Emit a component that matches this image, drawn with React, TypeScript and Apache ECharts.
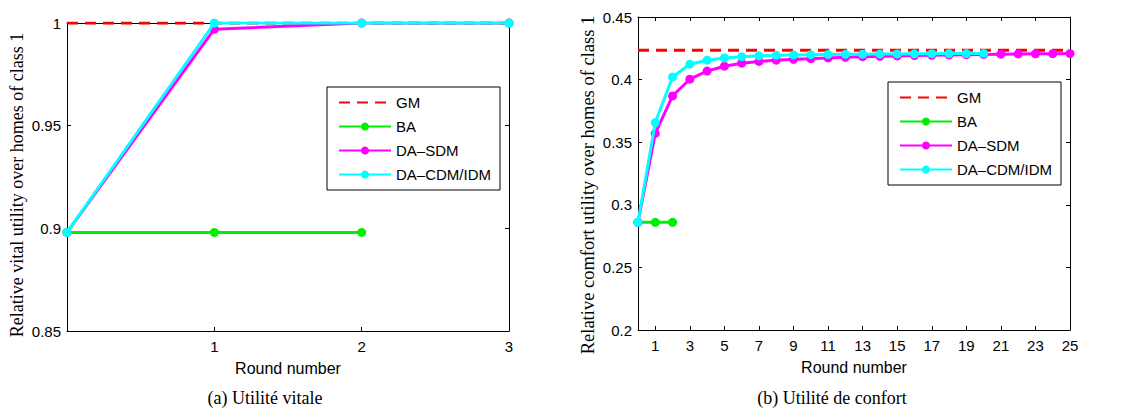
import React, { useEffect, useRef } from "react";
import * as echarts from "echarts";

// ---- Panel (a): Utilité vitale ----
const roundsA = [0, 1, 2, 3];
const gmRoundsA = [0, 3];
const gmA = [1, 1];
const baRoundsA = [0, 1, 2];
const baA = [0.898, 0.898, 0.898];
const sdmA = [0.898, 0.997, 1, 1];
const cdmA = [0.898, 1, 1, 1];
const xTicksA = [1, 2, 3];

// ---- Panel (b): Utilité de confort ----
const gmRoundsB = [0, 25];
const gmB = [0.4234, 0.4234];
const baRoundsB = [0, 1, 2];
const baB = [0.286, 0.286, 0.286];
const sdmRoundsB = [0, 1, 2, 3, 4, 5, 6, 7, 8, 9, 10, 11, 12, 13, 14, 15, 16, 17, 18, 19, 20, 21, 22, 23, 24, 25];
const sdmB = [0.286, 0.357, 0.387, 0.4003, 0.4068, 0.4107, 0.4131, 0.4145, 0.4155, 0.4162, 0.4167, 0.4173, 0.4178, 0.4183, 0.4186, 0.4189, 0.4192, 0.4194, 0.4197, 0.4199, 0.4201, 0.4203, 0.4205, 0.4206, 0.4207, 0.4208];
const cdmRoundsB = [0, 1, 2, 3, 4, 5, 6, 7, 8, 9, 10, 11, 12, 13, 14, 15, 16, 17, 18, 19, 20];
const cdmB = [0.286, 0.3657, 0.4021, 0.4123, 0.4155, 0.4173, 0.4183, 0.419, 0.4194, 0.4197, 0.4199, 0.4201, 0.4202, 0.4203, 0.4204, 0.4205, 0.4206, 0.4207, 0.4208, 0.4208, 0.4209];
const xTicksB = [1, 3, 5, 7, 9, 11, 13, 15, 17, 19, 21, 23, 25];

const seriesNames = ["GM", "BA", "DA\u2013SDM", "DA\u2013CDM/IDM"];
const colors = ["#ff0000", "#00ee00", "#ff00ff", "#00ffff"];
const captions = ["(a) Utilit\u00e9 vitale", "(b) Utilit\u00e9 de confort"];
const yNames = [
  "Relative vital utility over homes of class 1",
  "Relative comfort utility over homes of class 1",
];

const SANS = "'Liberation Sans', Arial, sans-serif";
const SERIF = "'Liberation Serif', 'DejaVu Serif', serif";

const zip = (xs: number[], ys: number[]) => xs.map((x, i) => [x, ys[i]]);

export default function App() {
  const ref = useRef<HTMLDivElement>(null);
  useEffect(() => {
    if (!ref.current) return;
    const chart = echarts.init(ref.current, undefined, { renderer: "svg" });

    const axisLine = { show: true, lineStyle: { color: "#000", width: 1 } };
    const tickIn = { show: true, inside: true, length: 4, lineStyle: { color: "#000" } };
    const label = { color: "#000", fontSize: 15, fontFamily: SANS };

    const xAxisBase = (grid: number, min: number, max: number, ticks: number[], pos: "top" | "bottom") => ({
      type: "value",
      gridIndex: grid,
      position: pos,
      min,
      max,
      axisLine: { ...axisLine, onZero: false },
      axisTick: { ...tickIn, customValues: ticks },
      axisLabel: pos === "bottom" ? { ...label, margin: 8, customValues: ticks } : { show: false },
      splitLine: { show: false },
      name: pos === "bottom" ? "Round number" : "",
      nameLocation: "middle",
      nameGap: 29,
      nameTextStyle: { color: "#000", fontSize: 16, fontFamily: SANS },
    });
    const yAxisBase = (grid: number, min: number, max: number, pos: "left" | "right") => ({
      type: "value",
      gridIndex: grid,
      position: pos,
      min,
      max,
      interval: 0.05,
      axisLine: { ...axisLine, onZero: false },
      axisTick: tickIn,
      axisLabel: pos === "left" ? { ...label, margin: 6 } : { show: false },
      splitLine: { show: false },
    });

    const lineSeries = (name: string, idx: number, data: number[][], xi: number, yi: number, dashed = false) => ({
      type: "line",
      name,
      xAxisIndex: xi,
      yAxisIndex: yi,
      data,
      symbol: dashed ? "none" : "circle",
      symbolSize: 9,
      showSymbol: !dashed,
      lineStyle: { color: colors[idx], width: 3, type: dashed ? [11, 7] : "solid" },
      itemStyle: { color: colors[idx] },
      z: 2 + idx,
    });

    const legend = (left: number, top: number) => ({
      orient: "vertical",
      left,
      top,
      data: [
        { name: seriesNames[0], itemStyle: { opacity: 0 } },
        seriesNames[1],
        seriesNames[2],
        seriesNames[3],
      ],
      itemWidth: 52,
      itemHeight: 10,
      itemGap: 9,
      padding: [8, 9, 8, 11],
      borderColor: "#000",
      borderWidth: 1,
      backgroundColor: "#fff",
      textStyle: { color: "#000", fontSize: 15, fontFamily: SANS },
      selectedMode: false,
    });

    chart.setOption({
      animation: false,
      backgroundColor: "#fff",
      grid: [
        { left: 67, top: 23, width: 442, height: 308 },
        { left: 638, top: 17, width: 432, height: 313 },
      ],
      xAxis: [
        xAxisBase(0, 0, 3, xTicksA, "bottom"),
        xAxisBase(0, 0, 3, xTicksA, "top"),
        xAxisBase(1, 0, 25, xTicksB, "bottom"),
        xAxisBase(1, 0, 25, xTicksB, "top"),
      ],
      yAxis: [
        yAxisBase(0, 0.85, 1, "left"),
        yAxisBase(0, 0.85, 1, "right"),
        yAxisBase(1, 0.2, 0.45, "left"),
        yAxisBase(1, 0.2, 0.45, "right"),
      ],
      legend: [legend(327, 87), legend(888, 82)],
      series: [
        lineSeries(seriesNames[0], 0, zip(gmRoundsA, gmA), 0, 0, true),
        lineSeries(seriesNames[1], 1, zip(baRoundsA, baA), 0, 0),
        lineSeries(seriesNames[2], 2, zip(roundsA, sdmA), 0, 0),
        lineSeries(seriesNames[3], 3, zip(roundsA, cdmA), 0, 0),
        lineSeries(seriesNames[0], 0, zip(gmRoundsB, gmB), 2, 2, true),
        lineSeries(seriesNames[1], 1, zip(baRoundsB, baB), 2, 2),
        lineSeries(seriesNames[2], 2, zip(sdmRoundsB, sdmB), 2, 2),
        lineSeries(seriesNames[3], 3, zip(cdmRoundsB, cdmB), 2, 2),
      ],
      graphic: [
        { type: "text", x: 17, y: 185, rotation: Math.PI / 2, style: { text: yNames[0], fill: "#000", font: `18px ${SERIF}`, align: "center", verticalAlign: "middle" } },
        { type: "text", x: 588, y: 185, rotation: Math.PI / 2, style: { text: yNames[1], fill: "#000", font: `18.5px ${SERIF}`, align: "center", verticalAlign: "middle" } },
        { type: "text", x: 265, y: 398, style: { text: captions[0], fill: "#000", font: `18px ${SERIF}`, align: "center", verticalAlign: "middle" } },
        { type: "text", x: 832, y: 398, style: { text: captions[1], fill: "#000", font: `18px ${SERIF}`, align: "center", verticalAlign: "middle" } },
      ],
    });
    return () => chart.dispose();
  }, []);
  return <div ref={ref} style={{ position: "fixed", left: 0, top: 0, width: 1125, height: 412 }} />;
}
